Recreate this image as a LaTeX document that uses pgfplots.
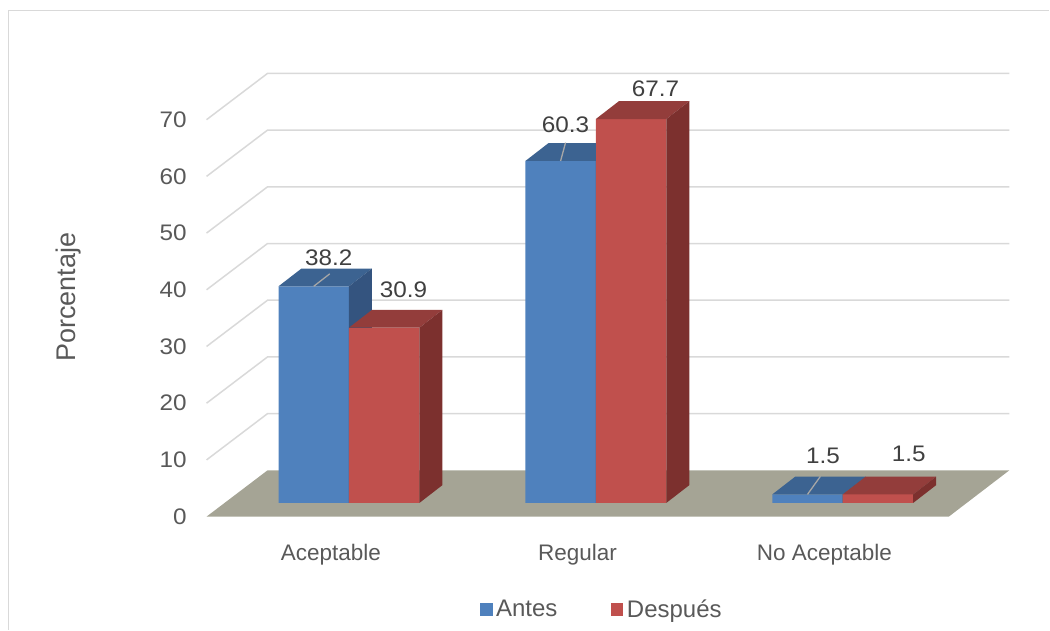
\documentclass[border=0pt]{standalone}
\usepackage{pgfplots}
\pgfplotsset{compat=1.18}
\usepackage{pgfplotstable}
\usepackage{fontspec}
\setmainfont{Liberation Sans}
\newfontfamily\numfam{Liberation Sans}[FakeStretch=1.08]

\definecolor{antesF}{HTML}{4F81BD}
\definecolor{antesT}{HTML}{3C6391}
\definecolor{antesS}{HTML}{34547F}
\definecolor{despF}{HTML}{C0504D}
\definecolor{despT}{HTML}{933D3B}
\definecolor{despS}{HTML}{7C302E}
\definecolor{floorc}{HTML}{A5A495}
\definecolor{gridc}{HTML}{D9D9D9}
\definecolor{txt}{HTML}{595959}
\definecolor{lbl}{HTML}{404040}
\definecolor{leader}{HTML}{A6A6A6}

\newcommand\chartfont{\fontsize{22.5pt}{27pt}\selectfont}
\newcommand\legendfont{\fontsize{24pt}{29pt}\selectfont}
\newcommand\numfont{\numfam\fontsize{22.5pt}{27pt}\selectfont}
\newcommand\titlefont{\fontsize{27pt}{32pt}\selectfont}

% Top and side faces of a column, drawn from its top front corner.
% \val is the column value; 1 unit of value = 5.675pt.
\pgfdeclareplotmark{antesfaces}{%
  \pgfmathsetlengthmacro\h{\val*5.675pt}%
  \pgfsetfillcolor{antesT}%
  \pgfpathmoveto{\pgfpoint{-70.5pt}{0pt}}%
  \pgfpathlineto{\pgfpoint{0pt}{0pt}}%
  \pgfpathlineto{\pgfpoint{23pt}{17.8pt}}%
  \pgfpathlineto{\pgfpoint{-47.5pt}{17.8pt}}%
  \pgfpathclose
  \pgfusepath{fill}%
  \pgfsetfillcolor{antesS}%
  \pgfpathmoveto{\pgfpoint{0pt}{0pt}}%
  \pgfpathlineto{\pgfpoint{23pt}{17.8pt}}%
  \pgfpathlineto{\pgfpoint{23pt}{17.8pt-\h}}%
  \pgfpathlineto{\pgfpoint{0pt}{-\h}}%
  \pgfpathclose
  \pgfusepath{fill}%
  \pgfsetstrokecolor{leader}%
  \pgfsetlinewidth{1.3pt}%
  \pgfpathmoveto{\pgfpoint{-35.25pt}{0pt}}%
  \pgfpathlineto{\pgfpoint{\ex pt}{\ey pt}}%
  \pgfusepath{stroke}%
}
% The second column of a pair repeats its front face so that it sits
% in front of the first column's side face.
\pgfdeclareplotmark{despfaces}{%
  \pgfmathsetlengthmacro\h{\val*5.675pt}%
  \pgfsetfillcolor{despF}%
  \pgfpathrectangle{\pgfpoint{0pt}{0pt}}{\pgfpoint{70.5pt}{-\h}}%
  \pgfusepath{fill}%
  \pgfsetfillcolor{despT}%
  \pgfpathmoveto{\pgfpoint{0pt}{0pt}}%
  \pgfpathlineto{\pgfpoint{70.5pt}{0pt}}%
  \pgfpathlineto{\pgfpoint{93.5pt}{17.8pt}}%
  \pgfpathlineto{\pgfpoint{23pt}{17.8pt}}%
  \pgfpathclose
  \pgfusepath{fill}%
  \pgfsetfillcolor{despS}%
  \pgfpathmoveto{\pgfpoint{70.5pt}{0pt}}%
  \pgfpathlineto{\pgfpoint{93.5pt}{17.8pt}}%
  \pgfpathlineto{\pgfpoint{93.5pt}{17.8pt-\h}}%
  \pgfpathlineto{\pgfpoint{70.5pt}{-\h}}%
  \pgfpathclose
  \pgfusepath{fill}%
}

% cat: category index, value: percentage,
% lx/ly: label offset, ex/ey: end of the leader line (pt)
\pgfplotstableread{
cat value lx ly ex ey
0 38.2 -20.2 28.5 -19.2 12.5
1 60.3 -30.3 36.1 -30.3 18.4
2 1.5 -19.6 38.8 -22.3 18.1
}\antes
\pgfplotstableread{
cat value lx ly
0 30.9 54.5 37.9
1 67.7 59.8 30.6
2 1.5 66.2 40.8
}\despues

\begin{document}
\begin{tikzpicture}
\begin{axis}[
  scale only axis, width=1050pt, height=630pt,
  xmin=0, xmax=1050, ymin=-22.33, ymax=88.69,
  clip=false,
  axis line style={draw=none}, tick style={draw=none}, major tick length=0pt,
  xtick={331,577.9,824.9},
  xticklabels={Aceptable,Regular,No Aceptable},
  xticklabel style={font=\chartfont, text=txt, anchor=base, inner sep=0pt, yshift=69pt},
  ytick={-2.414,7.586,...,67.586},
  yticklabels={0,10,20,30,40,50,60,70},
  yticklabel style={font=\numfont, text=txt, anchor=east, inner sep=0pt, xshift=187pt},
  ylabel={Porcentaje},
  ylabel style={font=\titlefont, text=txt, at={(rel axis cs:0.0657,0.5278)}, anchor=center},
  legend image code/.code={\fill[#1] (0pt,-6.35pt) rectangle (12.7pt,6.35pt);},
  legend style={at={(rel axis cs:0.4571,0.0322)}, anchor=west, draw=none, fill=none,
    legend columns=2, font=\legendfont, text=txt, inner sep=0pt,
    nodes={inner sep=3.5pt},
    /tikz/every even column/.append style={column sep=50pt}},
]

% chart area border
\draw[gridc, line width=1.5pt] (axis cs:8.3,-22.33) -- (axis cs:8.3,86.8) -- (axis cs:1050,86.8);

% floor
\fill[floorc] (axis cs:206.7,-2.414) -- (axis cs:267.7,5.744) -- (axis cs:1010,5.744) -- (axis cs:949.5,-2.414) -- cycle;

% side and back wall gridlines
\pgfplotsinvokeforeach{10,20,30,40,50,60,70}{
  \draw[gridc, line width=1.5pt] (axis cs:206.7,{#1-2.414}) -- (axis cs:267.7,{#1+5.744}) -- (axis cs:1010,{#1+5.744});
}

% Antes: front faces
\addplot[ybar, bar width=70.5pt, bar shift=-35.25pt, fill=antesF, draw=none, forget plot,
  x filter/.expression={349.2+247.05*x}] table[x=cat, y=value] {\antes};
% Antes: top and side faces, leader lines and labels
\addplot[only marks, mark=antesfaces, forget plot,
  x filter/.expression={349.2+247.05*x},
  point meta=explicit,
  visualization depends on={\thisrow{value} \as \val},
  visualization depends on={\thisrow{lx} \as \lx},
  visualization depends on={\thisrow{ly} \as \ly},
  visualization depends on={\thisrow{ex} \as \ex},
  visualization depends on={\thisrow{ey} \as \ey},
  nodes near coords={\pgfmathprintnumber[assume math mode=true,fixed,fixed zerofill,precision=1]{\pgfplotspointmeta}},
  every node near coord/.append style={font=\numfont, text=lbl, anchor=center, inner sep=0pt,
    xshift=\lx pt, yshift=\ly pt},
] table[x=cat, y=value, meta=value] {\antes};

% Después: front faces
\addplot[ybar, bar width=70.5pt, bar shift=35.25pt, fill=despF, draw=none, forget plot,
  x filter/.expression={349.2+247.05*x}] table[x=cat, y=value] {\despues};
% Después: front (again), top and side faces and labels
\addplot[only marks, mark=despfaces, forget plot,
  x filter/.expression={349.2+247.05*x},
  point meta=explicit,
  visualization depends on={\thisrow{value} \as \val},
  visualization depends on={\thisrow{lx} \as \lx},
  visualization depends on={\thisrow{ly} \as \ly},
  nodes near coords={\pgfmathprintnumber[assume math mode=true,fixed,fixed zerofill,precision=1]{\pgfplotspointmeta}},
  every node near coord/.append style={font=\numfont, text=lbl, anchor=center, inner sep=0pt,
    xshift=\lx pt, yshift=\ly pt},
] table[x=cat, y=value, meta=value] {\despues};

\addlegendimage{fill=antesF, draw=none}
\addlegendentry{Antes}
\addlegendimage{fill=despF, draw=none}
\addlegendentry{Después}
\end{axis}
\end{tikzpicture}
\end{document}
